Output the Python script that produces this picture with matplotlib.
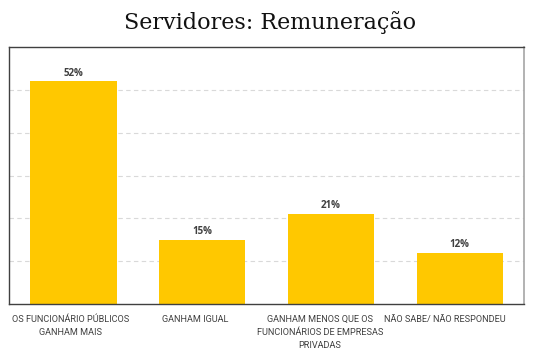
import matplotlib

matplotlib.use("Agg")
import matplotlib.pyplot as plt
import matplotlib.transforms as mtransforms

CATEGORIAS = [
    "OS FUNCIONÁRIO PÚBLICOS\nGANHAM MAIS",
    "GANHAM IGUAL",
    "GANHAM MENOS QUE OS\nFUNCIONÁRIOS DE EMPRESAS\nPRIVADAS",
    "NÃO SABE/ NÃO RESPONDEU",
]
VALORES = [52, 15, 21, 12]
ROTULOS = ["52%", "15%", "21%", "12%"]

AMARELO = "#FFC800"
TEXTO = "#404040"

# deslocamento horizontal dos rotulos de categoria (px), como no original
DESLOC = [-2.5, -6.5, -11, -15]


def main():
    fig = plt.figure(figsize=(5.4, 3.51), dpi=100, facecolor="white")
    ax = fig.add_axes([0.0167, 0.134, 0.9537, 0.732])

    x = list(range(len(VALORES)))
    barras = ax.bar(x, VALORES, width=0.67, color=AMARELO, zorder=2)
    for b, r in zip(barras, ROTULOS):
        ax.text(b.get_x() + b.get_width() / 2, b.get_height() + 0.6, r,
                ha="center", va="bottom", fontsize=7, fontweight="bold",
                color=TEXTO, family="Open Sans")

    ax.set_xlim(-0.5, 3.5)
    ax.set_ylim(0, 60)
    ax.set_yticks([10, 20, 30, 40, 50])
    ax.set_yticklabels([])
    ax.tick_params(axis="y", length=0)
    ax.set_xticks([])
    ax.grid(True, axis="y", color="#d9d9d9", ls=(0, (4, 3)), lw=0.8, zorder=0)

    base = ax.get_xaxis_transform()
    for xi, cat, dx in zip(x, CATEGORIAS, DESLOC):
        tr = base + mtransforms.ScaledTranslation(dx / 100, -11 / 100, fig.dpi_scale_trans)
        ax.text(xi, 0, cat, transform=tr, ha="center", va="top", fontsize=6.6,
                color=TEXTO, family="Roboto", linespacing=1.55,
                multialignment="center", clip_on=False)

    for lado in ["left", "bottom", "top"]:
        ax.spines[lado].set_color("#404040")
        ax.spines[lado].set_linewidth(1.0)
    ax.spines["right"].set_color("#a6a6a6")
    ax.spines["right"].set_linewidth(1.2)

    fig.text(0.5, 0.935, "Servidores: Remuneração", ha="center", va="center",
             fontsize=16, family="DejaVu Serif", color="#111111")

    fig.savefig("out.png", dpi=100, facecolor="white")


if __name__ == "__main__":
    main()
